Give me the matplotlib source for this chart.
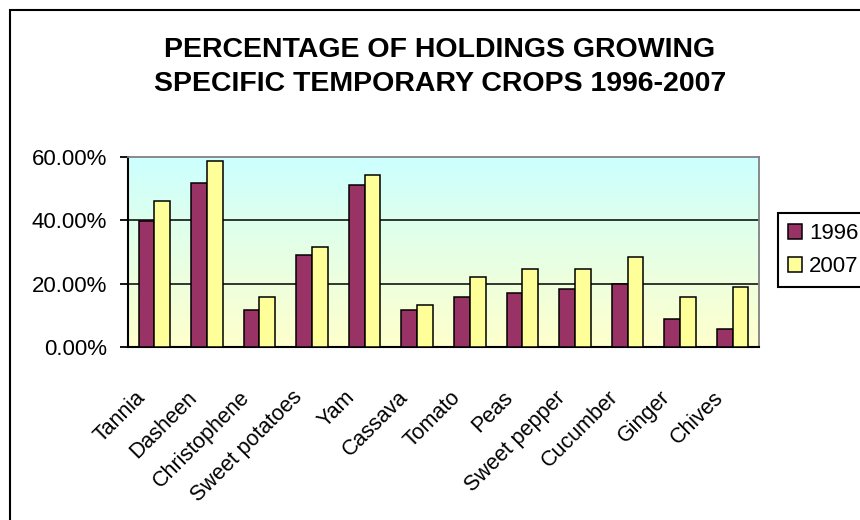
import numpy as np
import matplotlib
matplotlib.use('Agg')
import matplotlib.pyplot as plt
from matplotlib.patches import Rectangle, Patch
from matplotlib.colors import LinearSegmentedColormap
from matplotlib.transforms import ScaledTranslation
from matplotlib.ticker import FuncFormatter

crops = ['Tannia', 'Dasheen', 'Christophene', 'Sweet potatoes', 'Yam', 'Cassava',
         'Tomato', 'Peas', 'Sweet pepper', 'Cucumber', 'Ginger', 'Chives']
pct_1996 = [39.8, 51.7, 11.8, 28.9, 51.1, 11.8, 15.7, 16.9, 18.2, 20.0, 8.7, 5.6]
pct_2007 = [46.0, 58.6, 15.7, 31.5, 54.2, 13.2, 22.0, 24.5, 24.5, 28.3, 15.7, 18.8]
y_ticks = [0, 20, 40, 60]

plt.rcParams['font.family'] = ['Liberation Sans', 'DejaVu Sans']

fig = plt.figure(figsize=(8.6, 5.2), dpi=100)
ax = fig.add_axes([128 / 860, 1 - 347 / 520, (759 - 128) / 860, (347 - 157) / 520])

# gradient plot area: light yellow at bottom to light cyan at top
cmap = LinearSegmentedColormap.from_list('bg', ['#FFFFCC', '#CCFFFF'])
grad = np.linspace(0, 1, 256).reshape(-1, 1)
ax.imshow(grad, cmap=cmap, aspect='auto', origin='lower', extent=[0, 1, 0, 1],
          transform=ax.transAxes, zorder=0)

x = np.arange(len(crops))
w = 0.30
ax.bar(x - w / 2, pct_1996, w, color='#993366', edgecolor='black', linewidth=1.1, zorder=3)
ax.bar(x + w / 2, pct_2007, w, color='#FFFF99', edgecolor='black', linewidth=1.1, zorder=3)

ax.set_xlim(-0.5, len(crops) - 0.5)
ax.set_ylim(0, 60)
ax.set_yticks(y_ticks)
ax.yaxis.set_major_formatter(FuncFormatter(lambda v, p: f'{v:.2f}%'))
for v in y_ticks[1:-1]:
    ax.axhline(v, color='black', linewidth=1.1, zorder=2)

ax.tick_params(axis='y', labelsize=16, length=6, width=1.3, pad=9, direction='out')
ax.set_xticks(x, crops, rotation=45, ha='right', va='top', rotation_mode='anchor')
for lbl in ax.get_xticklabels():
    lbl.set_family(['Liberation Sans Narrow', 'Liberation Sans'])
    lbl.set_fontsize(15.5)
ax.tick_params(axis='x', length=0, pad=0)
shift = ScaledTranslation(-0.20, -0.40, fig.dpi_scale_trans)
for lbl in ax.get_xticklabels():
    lbl.set_transform(lbl.get_transform() + shift)

for side in ['left', 'bottom']:
    ax.spines[side].set_color('black')
    ax.spines[side].set_linewidth(1.5)
for side in ['top', 'right']:
    ax.spines[side].set_color('#808080')
    ax.spines[side].set_linewidth(1.3)

fig.text(440 / 860, 1 - 67 / 520,
         'PERCENTAGE OF HOLDINGS GROWING\nSPECIFIC TEMPORARY CROPS 1996-2007',
         ha='center', va='center', fontsize=20.5, fontweight='bold', linespacing=1.44)

handles = [Patch(facecolor='#993366', edgecolor='black', linewidth=1.1),
           Patch(facecolor='#FFFF99', edgecolor='black', linewidth=1.1)]
leg = fig.legend(handles, ['1996', '2007'], loc='upper left',
                 bbox_to_anchor=(778 / 860, 1 - 213 / 520), fontsize=16,
                 frameon=True, fancybox=False, edgecolor='black', framealpha=1,
                 handlelength=0.65, handleheight=0.65, handletextpad=0.3,
                 labelspacing=0.55, borderpad=0.45, borderaxespad=0)
leg.get_frame().set_linewidth(1.5)

# outer chart border (runs off the right and bottom edges)
fig.add_artist(Rectangle((10 / 860, -0.05), 1.05, 1.05 - 10 / 520,
                         transform=fig.transFigure, fill=False,
                         edgecolor='black', linewidth=1.5, clip_on=False))

plt.savefig('out.png', dpi=100)
plt.close()
